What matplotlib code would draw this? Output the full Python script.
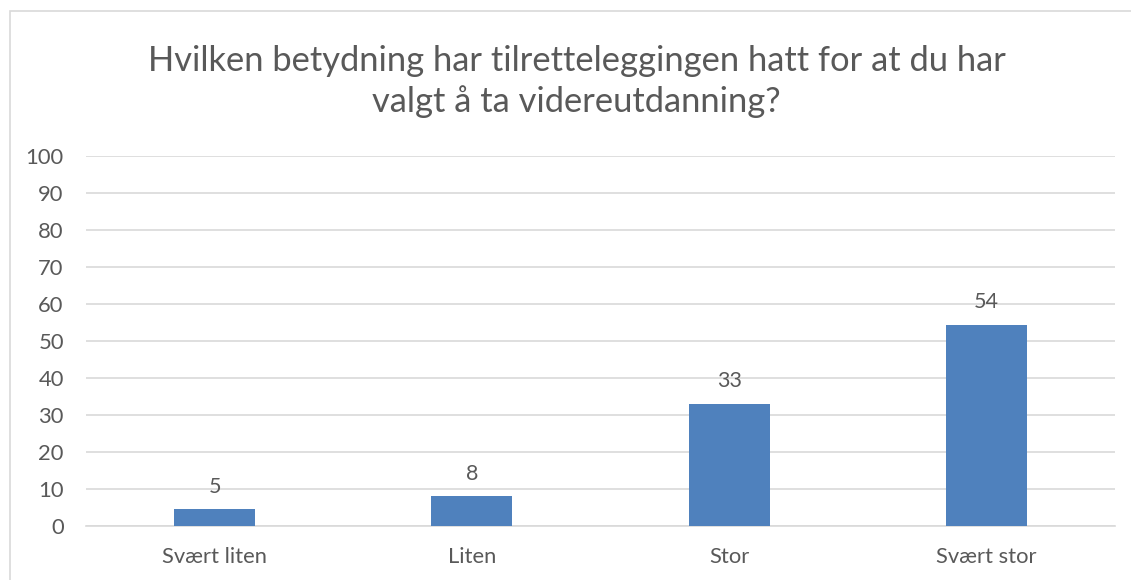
import numpy as np
import matplotlib
matplotlib.use('Agg')
from matplotlib import pyplot as plt
from matplotlib.patches import Rectangle

plt.rcParams['font.family'] = ['Lato', 'DejaVu Sans']

categories = ['Svært liten', 'Liten', 'Stor', 'Svært stor']
values = [4.5, 8.0, 33.1, 54.4]
value_labels = ['5', '8', '33', '54']
yticks = list(range(0, 101, 10))

title = 'Hvilken betydning har tilretteleggingen hatt for at du har\nvalgt å ta videreutdanning?'

grey = '#595959'

fig = plt.figure(figsize=(11.31, 5.8), dpi=100)
ax = fig.add_axes([0.076, 0.0931, 0.910, 0.638])

# outer frame like an Excel chart area
fig.patches.append(Rectangle((10 / 1131, -0.1), 1.2, 1.1 - 11 / 580,
                             transform=fig.transFigure, fill=False,
                             edgecolor='#D9D9D9', linewidth=1.2))

x = np.arange(len(categories))
bars = ax.bar(x, values, width=0.315, color='#4F81BD', zorder=3)

for b, lab in zip(bars, value_labels):
    ax.annotate(lab, (b.get_x() + b.get_width() / 2, b.get_height()),
                xytext=(0, 9), textcoords='offset points',
                ha='center', va='bottom', fontsize=15.5, color=grey)

ax.set_xlim(-0.5, len(categories) - 0.5)
ax.set_ylim(0, 100)
ax.set_yticks(yticks)
ax.set_xticks(x)
ax.set_xticklabels(categories)
ax.tick_params(axis='both', length=0, labelsize=15.8, colors=grey)
ax.tick_params(axis='x', pad=15)
ax.tick_params(axis='y', pad=16)
ax.grid(axis='y', color='#D9D9D9', linewidth=1.2, zorder=0)
for s in ['top', 'right', 'left']:
    ax.spines[s].set_visible(False)
ax.spines['bottom'].set_color('#D9D9D9')
ax.spines['bottom'].set_linewidth(1.2)

fig.text(0.51, 0.86, title, ha='center', va='center', fontsize=24.8,
         color=grey, linespacing=1.3)

fig.savefig('out.png', dpi=100)
